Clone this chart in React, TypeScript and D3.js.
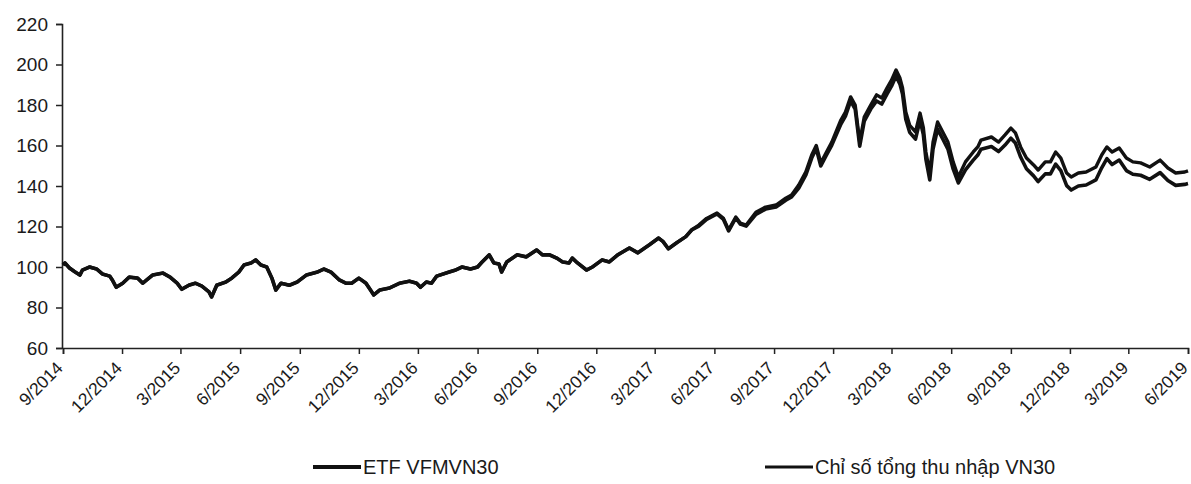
import React, { useEffect, useRef } from 'react';
import * as d3 from 'd3';

// values (base 100 = 9/2014)
const dates = [
  '2014-09-01', '2014-09-04', '2014-09-11', '2014-09-19', '2014-09-27', '2014-10-01', '2014-10-12', '2014-10-23', '2014-11-01', '2014-11-12',
  '2014-11-16', '2014-11-22', '2014-12-02', '2014-12-12', '2014-12-25', '2015-01-02', '2015-01-08', '2015-01-17', '2015-02-02', '2015-02-13',
  '2015-02-24', '2015-03-03', '2015-03-14', '2015-03-24', '2015-04-03', '2015-04-14', '2015-04-18', '2015-04-26', '2015-05-10', '2015-05-19',
  '2015-05-30', '2015-06-07', '2015-06-18', '2015-06-25', '2015-07-03', '2015-07-12', '2015-07-20', '2015-07-26', '2015-08-03', '2015-08-16',
  '2015-08-28', '2015-09-11', '2015-09-28', '2015-10-08', '2015-10-19', '2015-11-01', '2015-11-11', '2015-11-20', '2015-12-01', '2015-12-12',
  '2015-12-19', '2015-12-24', '2016-01-02', '2016-01-17', '2016-02-02', '2016-02-17', '2016-02-28', '2016-03-05', '2016-03-14', '2016-03-22',
  '2016-03-30', '2016-04-18', '2016-04-28', '2016-05-08', '2016-05-21', '2016-06-01', '2016-06-08', '2016-06-19', '2016-06-26', '2016-07-04',
  '2016-07-08', '2016-07-16', '2016-08-01', '2016-08-15', '2016-08-31', '2016-09-09', '2016-09-20', '2016-10-01', '2016-10-10', '2016-10-20',
  '2016-10-25', '2016-11-02', '2016-11-16', '2016-11-25', '2016-12-10', '2016-12-21', '2017-01-03', '2017-01-21', '2017-02-03', '2017-02-21',
  '2017-03-07', '2017-03-14', '2017-03-22', '2017-04-04', '2017-04-18', '2017-04-27', '2017-05-08', '2017-05-20', '2017-06-05', '2017-06-15',
  '2017-06-23', '2017-07-04', '2017-07-11', '2017-07-20', '2017-08-04', '2017-08-19', '2017-09-04', '2017-09-19', '2017-09-28', '2017-10-09',
  '2017-10-20', '2017-10-29', '2017-11-05', '2017-11-12', '2017-11-20', '2017-11-29', '2017-12-13', '2017-12-20', '2017-12-28', '2018-01-04',
  '2018-01-11', '2018-01-18', '2018-01-28', '2018-02-06', '2018-02-14', '2018-02-22', '2018-03-01', '2018-03-08', '2018-03-14', '2018-03-18',
  '2018-03-23', '2018-03-29', '2018-04-07', '2018-04-14', '2018-04-19', '2018-04-23', '2018-04-29', '2018-05-04', '2018-05-11', '2018-05-19',
  '2018-05-27', '2018-06-04', '2018-06-12', '2018-06-23', '2018-07-05', '2018-07-12', '2018-07-17', '2018-08-02', '2018-08-13', '2018-08-23',
  '2018-09-01', '2018-09-08', '2018-09-16', '2018-09-25', '2018-10-06', '2018-10-13', '2018-10-24', '2018-11-01', '2018-11-09', '2018-11-17',
  '2018-11-26', '2018-12-03', '2018-12-14', '2018-12-26', '2019-01-10', '2019-01-19', '2019-01-27', '2019-02-04', '2019-02-15', '2019-02-26',
  '2019-03-08', '2019-03-20', '2019-04-03', '2019-04-19', '2019-05-01', '2019-05-13', '2019-05-27', '2019-06-01',
];

// Chỉ số tổng thu nhập VN30 (upper line once they split)
const indexValues = [
  101, 102, 99.5, 97.7, 96, 98.5, 100, 99, 96.5, 95.5,
  93.6, 90, 92, 95, 94.5, 92, 93.6, 96, 97, 95,
  92, 89, 91, 92, 90.6, 87.7, 85.2, 91, 92.6, 94.5,
  97.5, 101, 102, 103.5, 101, 100, 94.5, 88.6, 92, 91,
  92.6, 96, 97.5, 99, 97.5, 93.6, 92, 92, 94.5, 92,
  88.6, 86.2, 88.6, 89.6, 92, 93, 92, 90, 92.6, 92,
  95.5, 97.5, 98.5, 100, 99, 100, 102.5, 106, 102, 101.5,
  97.5, 102.5, 106, 105, 108.4, 106, 106, 104.4, 102.5, 102,
  104.4, 102, 98.5, 100, 103.5, 102.5, 106, 109.4, 107, 111,
  114.3, 112.5, 109, 112, 115, 118.3, 120.7, 124, 126.7, 124,
  118.3, 124.7, 121.7, 120.7, 127, 129.6, 130.6, 134, 135.6, 140.5,
  147, 155.3, 160, 151.4, 156.3, 161.7, 172.6, 176.5, 184, 180,
  161.7, 174, 180, 185, 183.5, 188.4, 192.3, 197.3, 193.3, 188.4,
  176.5, 170, 166.7, 176, 169, 156.8, 146.4, 161.7, 171.6, 166.7,
  161.7, 151.9, 144.4, 151.9, 156.8, 159.3, 162.7, 164.2, 161.7, 165.2,
  168.6, 166.2, 159.3, 153.8, 150.4, 147.9, 151.9, 151.9, 156.8, 153.8,
  146.4, 144.4, 146.4, 146.9, 149.4, 155.3, 159.3, 156.8, 158.8, 153.8,
  151.9, 151.4, 149.4, 152.8, 148.9, 146.4, 146.9, 147.5,
];

// ETF VFMVN30
const etfValues = [
  101, 102, 99.5, 97.7, 96, 98.5, 100, 99, 96.5, 95.5,
  93.6, 90, 92, 95, 94.5, 92, 93.6, 96, 97, 95,
  92, 89, 91, 92, 90.6, 87.7, 85.2, 91, 92.6, 94.5,
  97.5, 101, 102, 103.5, 101, 100, 94.5, 88.6, 92, 91,
  92.6, 96, 97.5, 99, 97.5, 93.6, 92, 92, 94.5, 92,
  88.6, 86.2, 88.6, 89.6, 92, 93, 92, 90, 92.6, 92,
  95.5, 97.5, 98.5, 100, 99, 100, 102.5, 106, 102, 101.5,
  97.5, 102.5, 106, 105, 108.4, 106, 106, 104.4, 102.5, 102,
  104.4, 102, 98.5, 100, 103.5, 102.5, 106, 109.4, 107, 111,
  114.3, 112.5, 109, 112, 115, 118.3, 120.2, 123.5, 126.2, 123.5,
  117.8, 124.2, 121.2, 120.2, 126, 128.6, 129.6, 133, 134.6, 139,
  145.5, 153.8, 158.5, 149.9, 154.8, 160.2, 170.6, 174.5, 182, 178,
  159.7, 172, 178, 182, 180.5, 185.4, 189.3, 194.3, 190.3, 185.4,
  173, 166.5, 163.2, 172.5, 165.5, 153.3, 143, 158.2, 168.1, 163.2,
  158.2, 148.4, 141.5, 148, 152.8, 155.3, 158.2, 159.5, 157, 160.2,
  163.6, 161.2, 154.3, 148.5, 145, 142.2, 146, 146, 150.8, 147.6,
  140.2, 138, 140, 140.5, 143, 149, 153.5, 150.6, 152.8, 147.6,
  145.8, 145.3, 143.3, 146.6, 142.7, 140.3, 140.8, 141.2,
];

const yTicks = [60, 80, 100, 120, 140, 160, 180, 200, 220];
const seriesNames = ['ETF VFMVN30', 'Chỉ số tổng thu nhập VN30'];

const WIDTH = 1191;
const HEIGHT = 484;
const FONT = 'Liberation Sans, Arial, sans-serif';

function App() {
  const svgRef = useRef(null);

  useEffect(() => {
    const svg = d3.select(svgRef.current);
    svg.selectAll('*').remove();

    const parse = d3.timeParse('%Y-%m-%d');
    const xDates = dates.map(d => parse(d));
    const start = parse('2014-09-01');
    const end = parse('2019-06-01');

    const x = d3.scaleTime()
      .domain([start, end])
      .range([63, 1188]);
    const y = d3.scaleLinear()
      .domain([60, 220])
      .range([348, 24]);

    // y axis
    const yAxis = svg.append('g')
      .attr('transform', 'translate(62,0)')
      .call(d3.axisLeft(y).tickValues(yTicks).tickSize(6).tickPadding(8));
    yAxis.select('.domain').attr('stroke', '#222').attr('stroke-width', 1.6);
    yAxis.selectAll('.tick line').attr('stroke', '#222').attr('stroke-width', 1.5);
    yAxis.selectAll('.tick text')
      .attr('font-family', FONT)
      .attr('font-size', 19)
      .attr('fill', '#1a1a1a');

    // x axis: quarterly ticks starting at 9/2014
    const xTicks = d3.timeMonth.range(start, d3.timeDay.offset(end, 1), 3);
    const xAxis = svg.append('g')
      .attr('transform', 'translate(0,348)')
      .call(d3.axisBottom(x).tickValues(xTicks).tickSize(6).tickFormat(''));
    xAxis.select('.domain').attr('stroke', '#222').attr('stroke-width', 1.6);
    xAxis.selectAll('.tick line').attr('stroke', '#222').attr('stroke-width', 1.5);

    svg.append('g')
      .selectAll('text')
      .data(xTicks)
      .enter()
      .append('text')
      .attr('transform', d => `translate(${x(d) + 1},369) rotate(-45)`)
      .attr('text-anchor', 'end')
      .attr('font-family', FONT)
      .attr('font-size', 17.5)
      .attr('fill', '#1a1a1a')
      .text(d => `${d.getMonth() + 1}/${d.getFullYear()}`);

    const line = d3.line()
      .x(d => x(d[0]))
      .y(d => y(d[1]));

    const indexData = xDates.map((d, i) => [d, indexValues[i]]);
    const etfData = xDates.map((d, i) => [d, etfValues[i]]);

    svg.append('path')
      .datum(indexData)
      .attr('d', line)
      .attr('fill', 'none')
      .attr('stroke', '#111')
      .attr('stroke-width', 3.4)
      .attr('stroke-linejoin', 'round');

    svg.append('path')
      .datum(etfData)
      .attr('d', line)
      .attr('fill', 'none')
      .attr('stroke', '#111')
      .attr('stroke-width', 3.6)
      .attr('stroke-linejoin', 'round');

    // legend
    const legendPos = [313, 765];
    const legend = svg.append('g');
    seriesNames.forEach((name, i) => {
      legend.append('line')
        .attr('x1', legendPos[i])
        .attr('x2', legendPos[i] + 48)
        .attr('y1', 467)
        .attr('y2', 467)
        .attr('stroke', '#111')
        .attr('stroke-width', i === 0 ? 3.8 : 3.2);
      legend.append('text')
        .attr('x', legendPos[i] + 50)
        .attr('y', 474)
        .attr('font-family', FONT)
        .attr('font-size', 20)
        .attr('fill', '#1a1a1a')
        .text(name);
    });
  }, []);

  return (
    <svg
      ref={svgRef}
      width={WIDTH}
      height={HEIGHT}
      style={{ position: 'absolute', left: 0, top: 0, background: '#fff' }}
    />
  );
}

export default App;
